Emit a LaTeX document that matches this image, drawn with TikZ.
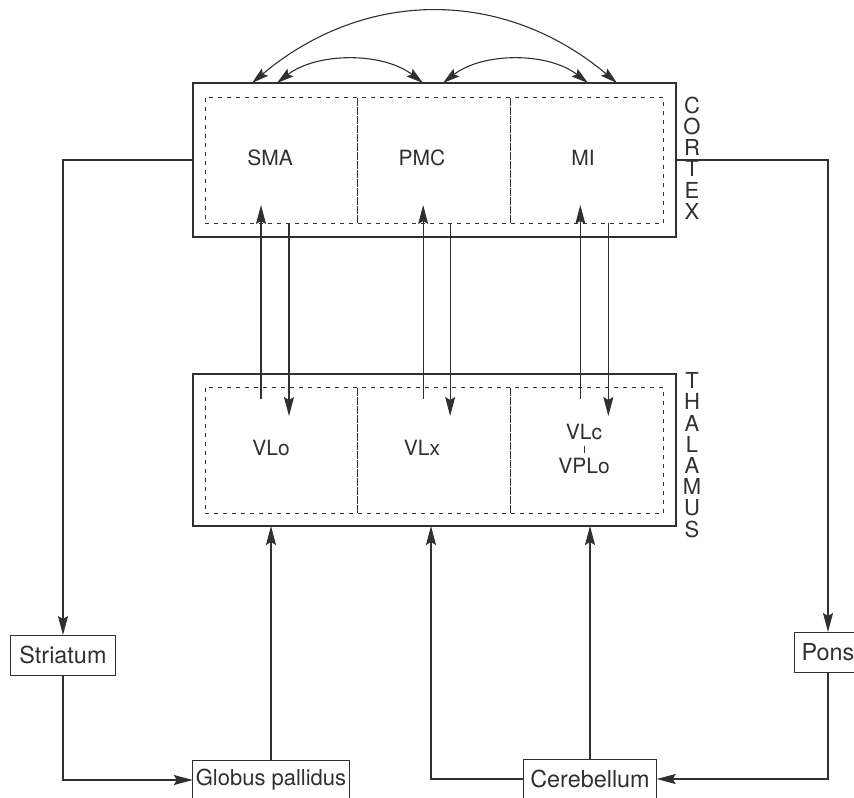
\documentclass[tikz,border=0pt]{standalone}
\usepackage{fontspec}
\setmainfont{TeX Gyre Heros}
\usetikzlibrary{arrows.meta,positioning,calc}
\definecolor{InkGray}{HTML}{303030}

\begin{document}
\begin{tikzpicture}[x=0.5pt,y=-0.5pt,
    region/.style={
      draw=InkGray,
      line width=0.6pt,
      minimum width=241.5pt,
      minimum height=77pt,
      inner sep=0pt,
      outer sep=0pt
    },
    cell/.style={
      draw=InkGray,
      dash pattern=on 2pt off 2.5pt,
      line width=0.5pt,
      minimum width=76.33pt,
      minimum height=63pt,
      inner sep=0pt,
      outer sep=0pt
    },
    lbl/.style={font=\fontsize{10.5}{12}\selectfont, text=InkGray, inner sep=0pt},
    vword/.style={font=\fontsize{11}{10.6}\selectfont, align=center, inner sep=0pt, text=InkGray},
    nucleus/.style={
      draw=InkGray,
      line width=0.5pt,
      font=\fontsize{11.7}{13}\selectfont,
      text=InkGray,
      minimum height=20pt,
      inner xsep=4pt,
      outer sep=0pt
    },
    arrow/.style={
      -{Stealth[length=9.5pt,width=5pt,inset=1.5pt]},
      line width=0.55pt,
      draw=InkGray
    },
    twoway/.style={
      {Stealth[length=8.5pt,width=4.8pt,inset=1.5pt]}-{Stealth[length=8.5pt,width=4.8pt,inset=1.5pt]},
      line width=0.55pt,
      draw=InkGray
    }]

    \useasboundingbox (0,0) rectangle (854,797);

    % Cortex
    \node[region] (cortex) at (434.5,160) {};
    \node[cell] (sma) at (281.5,160) {};
    \node[cell,right=0pt of sma] (pmc) {};
    \node[cell,right=0pt of pmc] (mi) {};
    \node[lbl] (smatext) at (270,158) {SMA};
    \node[lbl] (pmctext) at (422,158) {PMC};
    \node[lbl] (mitext) at (583,158) {MI};
    \node[vword] (cortexword) at (692,158) {C\\O\\R\\T\\E\\X};

    % Thalamus
    \node[region,minimum height=76pt] (thalamus) at (434.5,450) {};
    \node[cell] (vlo) at (281.5,450) {};
    \node[cell,right=0pt of vlo] (vlx) {};
    \node[cell,right=0pt of vlx] (vlc) {};
    \node[lbl] (vlotext) at (271,448) {VLo};
    \node[lbl] (vlxtext) at (422,448) {VLx};
    \node[lbl] (vlctext) at (584,432) {VLc};
    \node[lbl] (vplotext) at (584,466) {VPLo};
    \node[vword] (thalword) at (692,455) {T\\H\\A\\L\\A\\M\\U\\S};
    \draw[InkGray,line width=0.5pt,shorten <=6.75pt,shorten >=6.75pt] (vlctext.center) -- (vplotext.center);

    % Subcortical nuclei
    \node[nucleus,inner xsep=4.5pt] (striatum) at (63,655) {Striatum};
    \node[nucleus,inner xsep=1.5pt,font=\fontsize{11}{13}\selectfont] (pallidus) at (271,780) {Globus pallidus};
    \node[nucleus,inner xsep=3.5pt] (cerebellum) at (590,779) {Cerebellum};
    \node[nucleus,inner xsep=3.5pt] (pons) at (828,652) {Pons};

    % Cortico-cortical arcs
    \draw[twoway] ($(cortex.north)+(-182.5,0)$) .. controls +(113,-95) and +(-113,-95) .. ($(cortex.north)+(182.5,0)$);
    \draw[twoway] ($(cortex.north)+(-157.5,0)$) .. controls +(40,-31) and +(-40,-31) .. ($(cortex.north)+(-11.5,0)$);
    \draw[twoway] ($(cortex.north)+(8.5,0)$) .. controls +(40,-31) and +(-40,-31) .. ($(cortex.north)+(153.5,0)$);

    % Thalamo-cortical loops
    \draw[arrow] ($(vlo.north)+(-20.5,12)$) -- ($(sma.south)+(-20.5,-18)$);
    \draw[arrow] ($(sma.south)+(7.5,0)$) -- ($(vlo.north)+(7.5,29)$);
    \draw[arrow] ($(vlx.north)+(-11,12)$) -- ($(pmc.south)+(-11,-18)$);
    \draw[arrow] ($(pmc.south)+(16,0)$) -- ($(vlx.north)+(16,29)$);
    \draw[arrow] ($(vlc.north)+(-6.5,12)$) -- ($(mi.south)+(-6.5,-18)$);
    \draw[arrow] ($(mi.south)+(21.5,0)$) -- ($(vlc.north)+(21.5,29)$);

    % Basal ganglia and cerebellar loops
    \draw[arrow] (cortex.west) -| (striatum.north);
    \draw[arrow] (striatum.south) |- (pallidus.west);
    \draw[arrow] (pallidus.north) -- (pallidus.north |- thalamus.south);
    \draw[arrow] (cortex.east) -| (pons.north);
    \draw[arrow] (pons.south) |- (cerebellum.east);
    \draw[arrow] (cerebellum.north) -- (cerebellum.north |- thalamus.south);
    \draw[arrow] (cerebellum.west) -| ([xshift=-1.75pt]thalamus.south);
  \end{tikzpicture}
\end{document}
